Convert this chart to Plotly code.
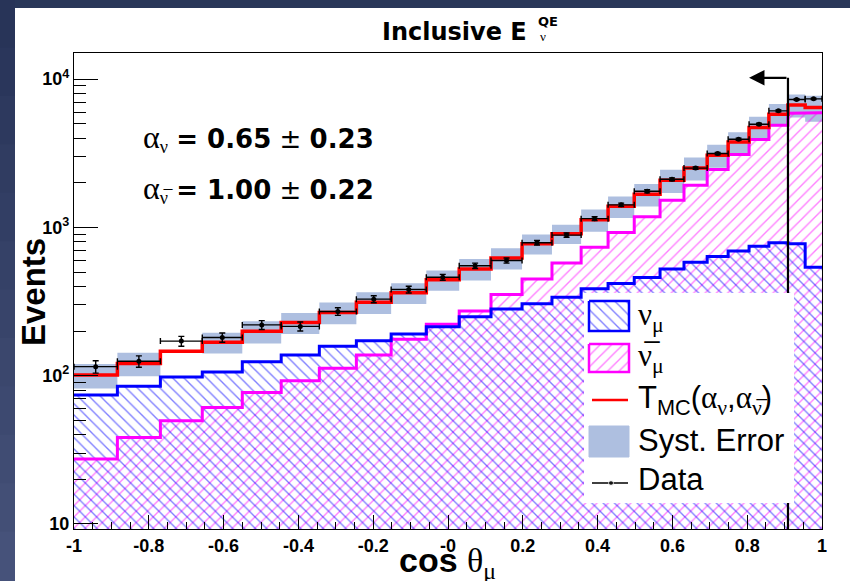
import math
import plotly.graph_objects as go

# ---- binning in cos(theta_mu) (variable width) ----
edges = [-1.0, -0.884, -0.769, -0.657, -0.550, -0.446, -0.344, -0.245, -0.152, -0.058,
         0.030, 0.115, 0.198, 0.278, 0.356, 0.428, 0.498, 0.567, 0.631, 0.693,
         0.749, 0.805, 0.858, 0.909, 0.955, 1.0]

# ---- MC components (events per bin) ----
nu_mu = [74, 85, 98, 106, 124, 138, 158, 172, 191, 214, 250, 282, 305, 338, 385,
         419, 459, 525, 583, 637, 692, 745, 788, 776, 539]
nubar_mu = [27.4, 38.3, 49.7, 61.1, 77.1, 92.5, 112, 138, 176, 222, 273, 353, 449, 576, 736,
            925, 1181, 1522, 1922, 2453, 3104, 3914, 4890, 5890, 5920]
t_mc = [101, 121, 146, 168, 199, 228, 267, 313, 362, 443, 525, 621, 776, 906, 1127,
        1386, 1671, 2078, 2516, 3065, 3770, 4716, 5800, 6690, 6440]
syst_err = [19, 22, None, 27, 34, 37, 45, 52, 58, 69, 86, 102, 120, 134, 192,
            227, 287, 370, 443, 545, 615, 849, 992, 1184, 1290]

# ---- data ----
data = [115, 125, 171, 181, 220, 215, 271, 328, 381, 461, 551, 598, 788, 887, 1145,
        1419, 1751, 2110, 2510, 3147, 3933, 4966, 6107, 7290, 7360]
data_err = [11, 11, 13, 13, 15, 15, 16, 18, 20, 21, 23, 24, 28, 30, 34,
            38, 42, 46, 50, 56, 63, 70, 78, 85, 86]

# ---- selection cut ----
CUT = 0.909
ARROW_TIP = 0.805
ARROW_LEVEL = 10200

x_ticks = [-1, -0.8, -0.6, -0.4, -0.2, 0, 0.2, 0.4, 0.6, 0.8, 1]
x_ticktext = ["-1", "-0.8", "-0.6", "-0.4", "-0.2", "-0", "0.2", "0.4", "0.6", "0.8", "1"]
y_ticks = [10, 100, 1000, 10000]
y_ticktext = ["10", "10<sup>2</sup>", "10<sup>3</sup>", "10<sup>4</sup>"]

W, H = 850, 581
ML, MR, MT, MB = 74, 28, 53, 52
PW, PH = W - ML - MR, H - MT - MB
FLOOR = 1.0  # below the visible log range, so fills reach the frame


def px(x):
    return (x - ML) / PW


def py(y):
    return (H - MB - y) / PH


def steps(vals):
    xs, ys = [], []
    for i, v in enumerate(vals):
        xs += [edges[i], edges[i + 1]]
        ys += [v, v]
    return xs, ys


BLUE = "#0000ff"
MAGENTA = "#ff00ff"
RED = "#ff0000"
BAND = "#aebfe0"
SANS = "Liberation Sans"
SERIF = "Liberation Serif"
HATCH_SIZE = 8
HATCH_SOLID = 0.17

fig = go.Figure()

# systematic error boxes around the fitted prediction
bx, by = [], []
for i, (t, s) in enumerate(zip(t_mc, syst_err)):
    if s is None:
        continue
    x0, x1 = edges[i], edges[i + 1]
    bx += [x0, x1, x1, x0, x0, None]
    by += [t - s, t - s, t + s, t + s, t - s, None]
fig.add_trace(go.Scatter(x=bx, y=by, mode="lines", fill="toself", fillcolor=BAND,
                         line=dict(width=0), hoverinfo="skip", showlegend=False))

# hatched components
for vals, shape, col in [(nubar_mu, "/", MAGENTA), (nu_mu, "\\", BLUE)]:
    sx, sy = steps(vals)
    fig.add_trace(go.Scatter(
        x=[edges[0]] + sx + [edges[-1]], y=[FLOOR] + sy + [FLOOR],
        mode="lines", fill="toself", fillcolor="rgba(0,0,0,0)",
        fillpattern=dict(shape=shape, fgcolor=col, bgcolor="rgba(0,0,0,0)",
                         size=HATCH_SIZE, solidity=HATCH_SOLID),
        line=dict(width=0), hoverinfo="skip", showlegend=False))

for vals, col, w in [(nubar_mu, MAGENTA, 3), (nu_mu, BLUE, 3), (t_mc, RED, 3.5)]:
    sx, sy = steps(vals)
    fig.add_trace(go.Scatter(x=sx, y=sy, mode="lines", line=dict(color=col, width=w),
                             hoverinfo="skip", showlegend=False))

# cut line
fig.add_trace(go.Scatter(x=[CUT, CUT], y=[FLOOR, ARROW_LEVEL], mode="lines",
                         line=dict(color="black", width=2.2), hoverinfo="skip",
                         showlegend=False))

# data points
centers = [(edges[i] + edges[i + 1]) / 2 for i in range(len(data))]
half_w = [(edges[i + 1] - edges[i]) / 2 for i in range(len(data))]
fig.add_trace(go.Scatter(
    x=centers, y=data, mode="markers",
    marker=dict(color="black", size=5),
    error_x=dict(type="data", array=half_w, color="black", thickness=1.4, width=3),
    error_y=dict(type="data", array=data_err, color="black", thickness=1.4, width=3),
    showlegend=False))

# ---- legend drawn in an inset subplot (white box over the hatching) ----
LX0, LX1, LY0, LY1 = 584, 794, 293, 503
lw, lh = LX1 - LX0, LY1 - LY0


def box(x0, x1, y0, y1):
    return [x0, x1, x1, x0, x0], [y0, y0, y1, y1, y0]


ix, iy = box(5, 45, 8, 38)
fig.add_trace(go.Scatter(x=ix, y=iy, xaxis="x2", yaxis="y2", mode="lines", fill="toself",
                         fillcolor="rgba(0,0,0,0)",
                         fillpattern=dict(shape="\\", fgcolor=BLUE, bgcolor="rgba(0,0,0,0)",
                                          size=HATCH_SIZE, solidity=HATCH_SOLID),
                         line=dict(color=BLUE, width=2.5), hoverinfo="skip", showlegend=False))
ix, iy = box(5, 45, 51, 79)
fig.add_trace(go.Scatter(x=ix, y=iy, xaxis="x2", yaxis="y2", mode="lines", fill="toself",
                         fillcolor="rgba(0,0,0,0)",
                         fillpattern=dict(shape="/", fgcolor=MAGENTA, bgcolor="rgba(0,0,0,0)",
                                          size=HATCH_SIZE, solidity=HATCH_SOLID),
                         line=dict(color=MAGENTA, width=2.5), hoverinfo="skip", showlegend=False))
fig.add_trace(go.Scatter(x=[8, 44], y=[107, 107], xaxis="x2", yaxis="y2", mode="lines",
                         line=dict(color=RED, width=2.5), hoverinfo="skip", showlegend=False))
ix, iy = box(5, 45, 133, 164)
fig.add_trace(go.Scatter(x=ix, y=iy, xaxis="x2", yaxis="y2", mode="lines", fill="toself",
                         fillcolor=BAND, line=dict(color=BAND, width=1),
                         hoverinfo="skip", showlegend=False))
fig.add_trace(go.Scatter(x=[8, 27, 44], y=[190, 190, 190], xaxis="x2", yaxis="y2",
                         mode="lines+markers", line=dict(color="black", width=1.4),
                         marker=dict(size=[0, 5, 0], color="black"),
                         hoverinfo="skip", showlegend=False))


def g(s, size=None):
    extra = f";font-size:{size}px" if size else ""
    return f'<span style="font-family:{SERIF}{extra}">{s}</span>'


nubar = "ν\u0305"
leg_items = [
    (24, g("ν") + "<sub>" + g("μ") + "</sub>"),
    (65, g(nubar) + "<sub>" + g("μ") + "</sub>"),
    (107, "T<sub>MC</sub>(" + g("α") + "<sub>" + g("ν") + "</sub>," + g("α") + "<sub>" + g(nubar) + "</sub>)"),
    (147, "Syst. Error"),
    (186, "Data"),
]
annotations = []
for yy, txt in leg_items:
    annotations.append(dict(x=52, y=yy, xref="x2", yref="y2", text=txt, showarrow=False,
                            xanchor="left", yanchor="middle",
                            font=dict(family=SANS, size=31, color="black")))

# fit results
annotations.append(dict(x=px(141), y=py(138), xref="paper", yref="paper", showarrow=False,
                        xanchor="left", yanchor="middle",
                        text=g("α", 32) + "<sub>" + g("ν") + "</sub> <b>= 0.65</b> ± <b>0.23</b>",
                        font=dict(family="DejaVu Sans", size=26, color="black")))
annotations.append(dict(x=px(141), y=py(189), xref="paper", yref="paper", showarrow=False,
                        xanchor="left", yanchor="middle",
                        text=g("α", 32) + "<sub>" + g(nubar) + "</sub> <b>= 1.00</b> ± <b>0.22</b>",
                        font=dict(family="DejaVu Sans", size=26, color="black")))

# title
annotations.append(dict(x=px(380), y=py(32), xref="paper", yref="paper", showarrow=False,
                        xanchor="left", yanchor="middle", text="<b>Inclusive E</b>",
                        font=dict(family="DejaVu Sans", size=24, color="black")))
annotations.append(dict(x=px(536), y=py(21), xref="paper", yref="paper", showarrow=False,
                        xanchor="left", yanchor="middle", text="<b>QE</b>",
                        font=dict(family="DejaVu Sans", size=13, color="black")))
annotations.append(dict(x=px(538), y=py(37), xref="paper", yref="paper", showarrow=False,
                        xanchor="left", yanchor="middle", text="ν",
                        font=dict(family=SERIF, size=13, color="black")))

# axis titles
annotations.append(dict(x=px(33), y=py(292), xref="paper", yref="paper", showarrow=False,
                        xanchor="center", yanchor="middle", textangle=-90,
                        text="<b>Events</b>", font=dict(family=SANS, size=33, color="black")))
annotations.append(dict(x=px(447), y=py(562), xref="paper", yref="paper", showarrow=False,
                        xanchor="center", yanchor="middle",
                        text="<b>cos</b> " + g("θ") + "<sub>" + g("μ") + "</sub>",
                        font=dict(family=SANS, size=34, color="black")))

# arrow marking the accepted side of the cut
annotations.append(dict(x=ARROW_TIP, y=math.log10(ARROW_LEVEL), ax=CUT,
                        ay=math.log10(ARROW_LEVEL), xref="x", yref="y", axref="x", ayref="y",
                        text="", showarrow=True, arrowhead=2, arrowsize=1.4,
                        arrowwidth=2.2, arrowcolor="black", standoff=0))

# page background: dark slide border around the white canvas
shapes = [dict(type="rect", xref="paper", yref="paper", x0=px(0), x1=px(W), y0=py(0), y1=py(H),
               fillcolor="white", line=dict(width=0), layer="below"),
          dict(type="rect", xref="paper", yref="paper", x0=px(0), x1=px(W), y0=py(0), y1=py(8),
               fillcolor="#293759", line=dict(width=0), layer="below")]
nstrip = 12
for k in range(nstrip):
    t = k / (nstrip - 1)
    r = int(40 + t * 30)
    gg = int(52 + t * 30)
    b = int(88 + t * 34)
    shapes.append(dict(type="rect", xref="paper", yref="paper", x0=px(0), x1=px(15),
                       y0=py(H * k / nstrip - 1), y1=py(H * (k + 1) / nstrip + 1),
                       fillcolor=f"rgb({r},{gg},{b})", line=dict(width=0), layer="below"))

fig.update_layout(
    width=W, height=H,
    margin=dict(l=ML, r=MR, t=MT, b=MB, pad=0),
    paper_bgcolor="white", plot_bgcolor="white",
    showlegend=False,
    xaxis=dict(range=[-1, 1], showline=True, mirror=True, linecolor="black", linewidth=1.2,
               ticks="inside", ticklen=14, tickwidth=1, tickcolor="black",
               tickvals=x_ticks, ticktext=x_ticktext,
               tickfont=dict(family=SANS, size=18, color="black", weight="bold"),
               showgrid=False, zeroline=False,
               minor=dict(ticks="inside", ticklen=7, tickwidth=1, tickcolor="black",
                          dtick=0.05, tick0=-1, showgrid=False)),
    yaxis=dict(type="log", range=[0.966, 4.176], showline=True, mirror=True, linecolor="black",
               linewidth=1.2, ticks="inside", ticklen=24, tickwidth=1, tickcolor="black",
               tickvals=y_ticks, ticktext=y_ticktext,
               tickfont=dict(family=SANS, size=18, color="black", weight="bold"),
               showgrid=False, zeroline=False,
               minor=dict(ticks="inside", ticklen=12, tickwidth=1, tickcolor="black",
                          tickmode="array",
                          tickvals=[m * 10 ** d for d in range(1, 5) for m in range(2, 10)],
                          showgrid=False)),
    xaxis2=dict(domain=[px(LX0), px(LX1)], range=[0, lw], anchor="y2", visible=False,
                fixedrange=True),
    yaxis2=dict(domain=[py(LY1), py(LY0)], range=[lh, 0], anchor="x2", visible=False,
                fixedrange=True),
    annotations=annotations,
    shapes=shapes,
)

fig.write_html("out.html", config={"displayModeBar": False})
